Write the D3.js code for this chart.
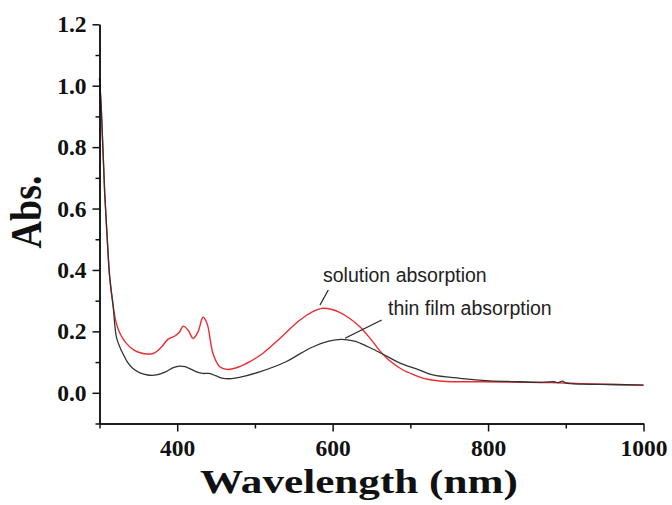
<!DOCTYPE html>
<html>
<head>
<meta charset="utf-8">
<script src="https://cdn.jsdelivr.net/npm/d3@7"></script>
<style>
  body { margin: 0; background: #fff; }
  svg { display: block; }
</style>
</head>
<body>
<svg width="672" height="505"></svg>
<script>
// solution absorption (red)
const solWave = [300, 302.4, 306.7, 310, 313, 317.4, 321.7, 327, 334.6, 345, 356, 369, 380, 388, 397, 403, 407.5, 414, 420.4, 426.8, 433.2, 438.4, 446, 454.7, 465, 480, 493, 510, 532, 558, 575, 586, 598, 609, 622, 635, 648, 660, 673, 690, 705, 716, 730, 746, 793, 850, 880, 920, 960, 1000];
const solAbs  = [1.024, 0.92, 0.65, 0.5, 0.38, 0.286, 0.226, 0.19, 0.161, 0.138, 0.128, 0.128, 0.150, 0.174, 0.185, 0.198, 0.217, 0.204, 0.177, 0.199, 0.246, 0.226, 0.128, 0.085, 0.076, 0.085, 0.101, 0.128, 0.177, 0.237, 0.265, 0.275, 0.272, 0.262, 0.242, 0.215, 0.178, 0.139, 0.105, 0.075, 0.058, 0.048, 0.041, 0.037, 0.036, 0.034, 0.033, 0.030, 0.027, 0.025];

// thin film absorption (black)
const filmWave = [300, 302.4, 306.7, 310, 313, 317.4, 321.7, 326, 330, 336, 343, 352, 362, 373, 385, 395, 403, 410, 416, 425, 433, 441, 450, 459, 470, 480, 506, 540, 560, 575, 595, 611, 628, 643, 656, 669, 684, 699, 712, 729, 764, 802, 840, 870, 885, 890, 896, 900, 922, 960, 1000];
const filmAbs  = [1.024, 0.92, 0.65, 0.5, 0.38, 0.286, 0.182, 0.15, 0.128, 0.10, 0.079, 0.065, 0.058, 0.058, 0.068, 0.082, 0.087, 0.085, 0.079, 0.068, 0.063, 0.063, 0.055, 0.047, 0.046, 0.050, 0.068, 0.101, 0.130, 0.150, 0.168, 0.174, 0.168, 0.153, 0.137, 0.120, 0.100, 0.085, 0.074, 0.058, 0.047, 0.039, 0.036, 0.034, 0.036, 0.033, 0.038, 0.032, 0.028, 0.027, 0.025];

const xTicks = [400, 600, 800, 1000];
const xMinor = [300, 500, 700, 900];
const yTicks = [0.0, 0.2, 0.4, 0.6, 0.8, 1.0, 1.2];
const yMinor = [-0.1, 0.1, 0.3, 0.5, 0.7, 0.9, 1.1];

const svg = d3.select('svg');

// x
const x = d3.scaleLinear()
    .domain([300, 1000])
    .range([99.5, 643.5]);

// y
const y = d3.scaleLinear()
    .domain([-0.1, 1.2])
    .range([423.5, 24.3]);

const toPts = (w, a) => w.map((d, i) => ({w: d, a: a[i]}));

const line = d3.line()
    .x(d => x(d.w))
    .y(d => y(d.a))
    .curve(d3.curveCatmullRom.alpha(0.5));

svg.append('path')
    .datum(toPts(solWave, solAbs))
    .attr('fill', 'none')
    .attr('stroke', '#ee2b30')
    .attr('stroke-width', 1.4)
    .attr('d', line);

svg.append('path')
    .datum(toPts(filmWave, filmAbs))
    .attr('fill', 'none')
    .attr('stroke', '#333')
    .attr('stroke-width', 1.3)
    .attr('d', line);

// axes
const xAxis = d3.axisBottom(x).tickValues(xTicks).tickSize(8).tickSizeOuter(0).tickPadding(8).tickFormat(d3.format('d'));
const xAxisMinor = d3.axisBottom(x).tickValues(xMinor).tickSize(5).tickSizeOuter(0).tickFormat('');
const yAxis = d3.axisLeft(y).tickValues(yTicks).tickSize(7).tickSizeOuter(0).tickPadding(6).tickFormat(d3.format('.1f'));
const yAxisMinor = d3.axisLeft(y).tickValues(yMinor).tickSize(4).tickSizeOuter(0).tickFormat('');

const styleAxis = g => {
    g.selectAll('path, line').attr('stroke', '#111').attr('stroke-width', 1.5);
    g.selectAll('text')
        .attr('fill', '#111')
        .style('font-family', '"Liberation Serif", "Times New Roman", serif')
        .style('font-weight', 'bold')
        .style('font-size', '23.5px');
};

svg.append('g').attr('transform', `translate(0, ${y(-0.1)})`).call(xAxisMinor).call(styleAxis);
svg.append('g').attr('transform', `translate(0, ${y(-0.1)})`).call(xAxis).call(styleAxis);
svg.append('g').attr('transform', `translate(${x(300)}, 0)`).call(yAxisMinor).call(styleAxis);
svg.append('g').attr('transform', `translate(${x(300)}, 0)`).call(yAxis).call(styleAxis);

// axis titles
svg.append('text')
    .attr('transform', 'translate(200, 493) scale(1.27, 1)')
    .style('font-family', '"Liberation Serif", "Times New Roman", serif')
    .style('font-weight', 'bold')
    .style('font-size', '34px')
    .attr('fill', '#111')
    .text('Wavelength (nm)');

svg.append('text')
    .attr('transform', 'translate(41, 212) scale(1.15, 1) rotate(-90)')
    .attr('text-anchor', 'middle')
    .style('font-family', '"Liberation Serif", "Times New Roman", serif')
    .style('font-weight', 'bold')
    .style('font-size', '38px')
    .attr('fill', '#111')
    .text('Abs.');

// annotations
const notes = [
    {text: 'solution absorption', tx: 323, ty: 281.5, x1: 328.3, y1: 290, x2: 320, y2: 305},
    {text: 'thin film absorption', tx: 388, ty: 315, x1: 381.7, y1: 320, x2: 345, y2: 338.3}
];
notes.forEach(n => {
    svg.append('text')
        .attr('x', n.tx).attr('y', n.ty)
        .style('font-family', '"Liberation Sans", Arial, sans-serif')
        .style('font-size', '19.5px')
        .attr('fill', '#222')
        .text(n.text);
    svg.append('line')
        .attr('x1', n.x1).attr('y1', n.y1)
        .attr('x2', n.x2).attr('y2', n.y2)
        .attr('stroke', '#222')
        .attr('stroke-width', 1.2);
});
</script>
</body>
</html>
